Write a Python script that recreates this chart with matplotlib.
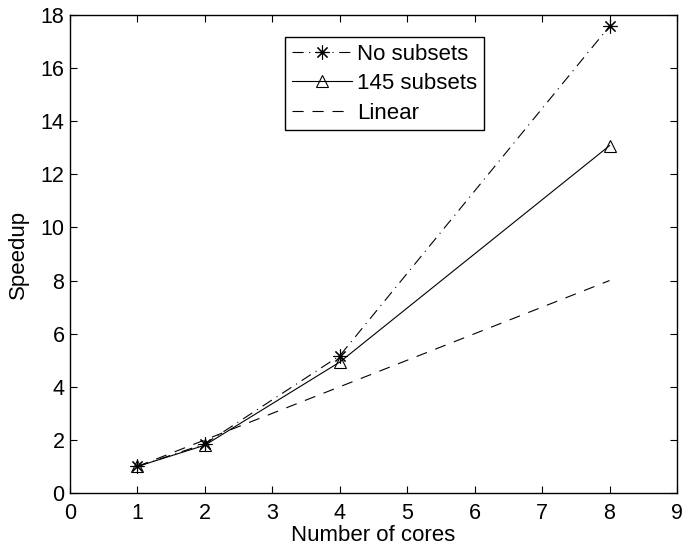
import matplotlib
matplotlib.use("Agg")
import matplotlib.pyplot as plt

plt.rcParams['font.family'] = ['Liberation Sans', 'DejaVu Sans']

cores = [1, 2, 4, 8]
no_subsets = [1.0, 1.85, 5.17, 17.58]
subsets_145 = [1.0, 1.8, 4.93, 13.08]
linear = [1, 2, 4, 8]

fig = plt.figure(figsize=(6.84, 5.46), dpi=100)
ax = fig.add_axes([70 / 684, 1 - 493 / 546, 607 / 684, 478 / 546])

ax.plot(cores, no_subsets, color='k', linestyle=(0, (10, 5, 1, 5)), linewidth=0.8,
        marker=(8, 2, 0), markersize=10, markeredgewidth=0.8,
        label='No subsets')
ax.plot(cores, subsets_145, color='k', linestyle='-', linewidth=0.8,
        marker='^', markersize=9, markerfacecolor='none', markeredgewidth=0.8,
        label='145 subsets')
ax.plot(cores, linear, color='k', linestyle=(0, (10, 8)), linewidth=0.8,
        label='Linear')

ax.set_xlim(0, 9)
ax.set_ylim(0, 18)
ax.set_xticks(range(0, 10))
ax.set_yticks(range(0, 19, 2))
ax.tick_params(direction='in', top=True, right=True, labelsize=15.5, length=5, width=0.8)
ax.tick_params(axis='x', pad=7)
ax.tick_params(axis='y', pad=4)
for s in ax.spines.values():
    s.set_linewidth(1.0)

ax.set_xlabel('Number of cores', fontsize=16, labelpad=1)
ax.set_ylabel('Speedup', fontsize=16, labelpad=8)

leg = ax.legend(loc='upper left', bbox_to_anchor=(0.354, 0.954), borderaxespad=0,
                fontsize=16, fancybox=False, edgecolor='k', framealpha=1,
                handlelength=2.7, handletextpad=0.25, labelspacing=0.38,
                borderpad=0.3)
leg.get_frame().set_linewidth(1.0)

fig.savefig('out.png', dpi=100)
